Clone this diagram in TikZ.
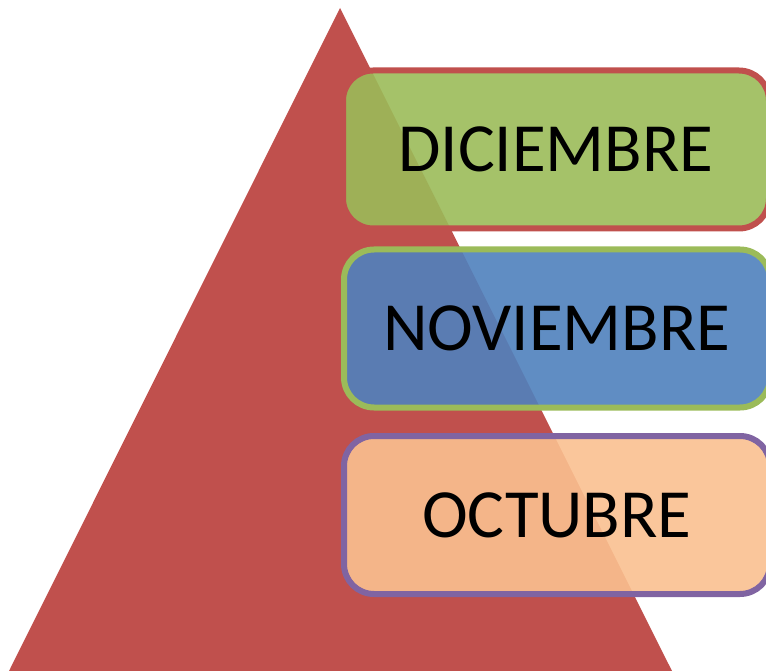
\documentclass[tikz,border=0pt]{standalone}
\usepackage{fontspec}
\setmainfont{Carlito}
\usepackage{xcolor}
\usepackage{tikz}

\definecolor{offred}{HTML}{C0504D}
\definecolor{offgreen}{HTML}{9BBB59}
\definecolor{offblue}{HTML}{4F81BD}
\definecolor{offorange}{HTML}{FAC090}
\definecolor{offpurple}{HTML}{8064A2}

\begin{document}
\begin{tikzpicture}[
  x=1pt,y=-1pt,
  box/.style={draw,rounded corners=30pt,line width=6pt,fill opacity=0.9,text opacity=1,
    minimum width=426pt,minimum height=158pt,inner sep=0pt,
    font=\fontsize{69}{82}\selectfont},
]
\useasboundingbox (0,0) rectangle (766,671);

\fill[offred] (340,8) -- (672,671) -- (9,671) -- cycle;

\node[box,draw=offred,fill=offgreen] (n0) at (556,149.5) {DICIEMBRE};
\node[box,draw=offgreen,fill=offblue] (n1) at (557,328.5) {NOVIEMBRE};
\node[box,draw=offpurple,fill=offorange] (n2) at (557,515) {OCTUBRE};

\end{tikzpicture}
\end{document}
